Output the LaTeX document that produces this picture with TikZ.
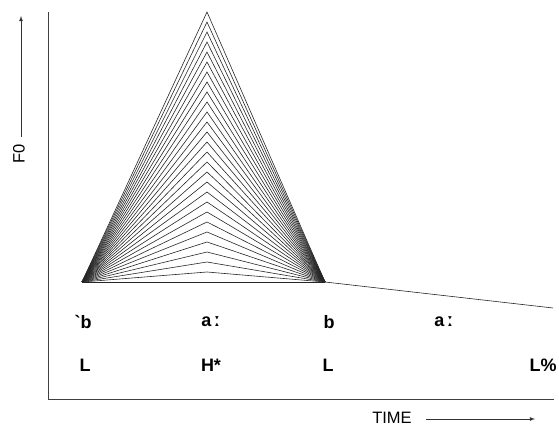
\documentclass[tikz,border=0pt]{standalone}
\usepackage{fontspec}
\setmainfont{Liberation Sans}
\newfontfamily\ipafont{DejaVu Sans}
\newcommand{\lng}{\,{\ipafont\bfseries ː}}
\begin{document}
\begin{tikzpicture}[x=1pt,y=-1pt,
  lab/.style={font=\fontsize{18}{18}\selectfont\bfseries, inner sep=0pt},
  axislab/.style={font=\fontsize{16.5}{16.5}\selectfont, inner sep=0pt},
  contour/.style={line width=0.6pt, black!85}]

\useasboundingbox (0,0) rectangle (559,427);

% Axes
\draw[line width=1pt, black!75] (48,12) -- (48,399) -- (554,399);

% Pitch peaks
\foreach \h in {12,22,...,272}
  \draw[contour] (82,282) -- (207,\h) -- (325,282);
\draw[contour] (82,282) -- (325,282);

% Final fall
\draw[contour] (325,282) -- (553,308);

% Segments
\node[lab] (s1) at (83,322) {\textasciigrave b};
\node[lab] (s2) at (211,322) {a\lng};
\node[lab] (s3) at (329,322) {b};
\node[lab] (s4) at (444,322) {a\lng};

% Tones
\node[lab] (t1) at (85,365) {L};
\node[lab] (t2) at (211,365) {H*};
\node[lab] (t3) at (328,365) {L};
\node[lab] (t4) at (543,365) {L\%};

% Axis labels
\node[axislab, rotate=90] (f0) at (19,154) {F0};
\coordinate (f0top) at (21,16);
\draw[-latex, line width=0.8pt, black!80] (f0.east) ++(2,-7) -- (f0top);

\node[axislab] (time) at (392,418) {TIME};
\coordinate (timeend) at (535,419);
\draw[-latex, line width=0.8pt, black!80] (time.east) ++(14,1) -- (timeend);

\end{tikzpicture}
\end{document}
